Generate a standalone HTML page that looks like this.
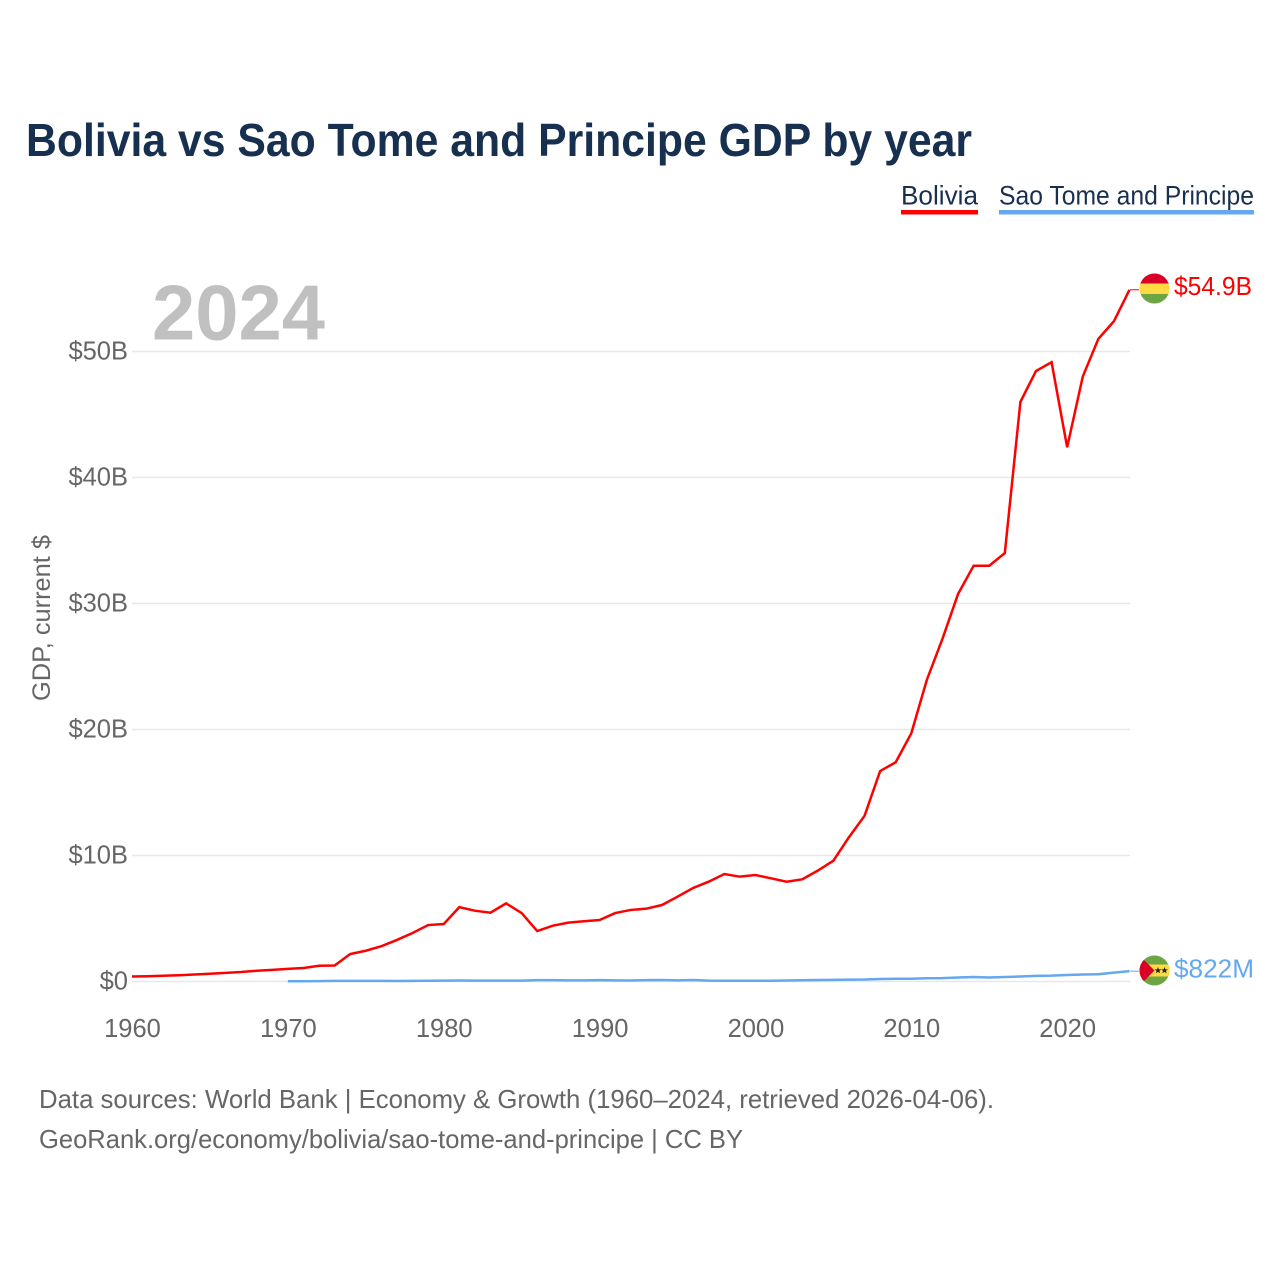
<!DOCTYPE html>
<html lang="en">
<head>
<meta charset="utf-8">
<title>Bolivia vs Sao Tome and Principe GDP by year</title>
<style>
html,body{margin:0;padding:0;background:#fff}
svg{display:block}
text{font-family:"Liberation Sans",sans-serif}
</style>
</head>
<body>
<svg id="chart" xmlns="http://www.w3.org/2000/svg" width="1280" height="1280" viewBox="0 0 1280 1280">
  <rect x="0" y="0" width="1280" height="1280" fill="#ffffff"/>
  <text x="26" y="156" font-size="46" font-weight="700" fill="#18304f" textLength="946" lengthAdjust="spacingAndGlyphs">Bolivia vs Sao Tome and Principe GDP by year</text>

  <g>
    <text x="901" y="204.5" font-size="26.5" fill="#18304f" textLength="77" lengthAdjust="spacingAndGlyphs">Bolivia</text>
    <rect x="901" y="210" width="77" height="4.5" fill="#ff0000"/>
  </g>
  <g>
    <text x="999" y="204.5" font-size="26.5" fill="#18304f" textLength="255" lengthAdjust="spacingAndGlyphs">Sao Tome and Principe</text>
    <rect x="999" y="210" width="255" height="4.5" fill="#64a8ef"/>
  </g>

  <g id="grid"></g>
  <g id="yTicks"></g>
  <g id="xTicks"></g>

  <text x="152" y="339.5" font-size="78" font-weight="700" fill="#c0c0c0" textLength="173" lengthAdjust="spacingAndGlyphs">2024</text>

  <text transform="translate(50,701) rotate(-90)" font-size="25" fill="#666666" textLength="166" lengthAdjust="spacingAndGlyphs">GDP, current $</text>

  <g id="series"></g>

  <defs>
    <clipPath id="clipBo"><circle cx="1154.5" cy="288.5" r="15"/></clipPath>
    <clipPath id="clipSt"><circle cx="1154.5" cy="970.5" r="15"/></clipPath>
  </defs>

  <g clip-path="url(#clipBo)">
    <rect x="1139" y="273" width="31" height="11" fill="#d80027"/>
    <rect x="1139" y="283.5" width="31" height="10.5" fill="#ffda44"/>
    <rect x="1139" y="294" width="31" height="11" fill="#6da544"/>
  </g>
  <g clip-path="url(#clipSt)">
    <rect x="1139" y="955" width="31" height="31" fill="#6da544"/>
    <rect x="1139" y="964.5" width="31" height="12" fill="#ffda44"/>
    <polygon points="1139,955 1154.5,970.5 1139,986" fill="#d80027"/>
    <polygon points="1158,967 1158.9,969.4 1161.4,969.4 1159.4,970.9 1160.2,973.3 1158,971.9 1155.8,973.3 1156.6,970.9 1154.6,969.4 1157.1,969.4" fill="#222"/>
    <polygon points="1164.5,967 1165.4,969.4 1167.9,969.4 1165.9,970.9 1166.7,973.3 1164.5,971.9 1162.3,973.3 1163.1,970.9 1161.1,969.4 1163.6,969.4" fill="#222"/>
  </g>

  <text x="1174" y="295" font-size="25.5" fill="#ff0000" textLength="78" lengthAdjust="spacingAndGlyphs">$54.9B</text>
  <text x="1174" y="977.5" font-size="25.5" fill="#64a8ef" textLength="80" lengthAdjust="spacingAndGlyphs">$822M</text>

  <text x="39" y="1108" font-size="26" fill="#666666" textLength="955" lengthAdjust="spacingAndGlyphs">Data sources: World Bank | Economy &amp; Growth (1960–2024, retrieved 2026-04-06).</text>
  <text x="39" y="1148" font-size="26" fill="#666666" textLength="704" lengthAdjust="spacingAndGlyphs">GeoRank.org/economy/bolivia/sao-tome-and-principe | CC BY</text>
</svg>
<script>
const yTickValues = [0, 10, 20, 30, 40, 50];
const yTickLabels = ["$0", "$10B", "$20B", "$30B", "$40B", "$50B"];
const xTickValues = [1960, 1970, 1980, 1990, 2000, 2010, 2020];
const boliviaStartYear = 1960;
const boliviaGdp = [0.4,0.42,0.46,0.5,0.56,0.62,0.68,0.75,0.85,0.92,1.0,1.07,1.25,1.27,2.18,2.44,2.8,3.3,3.85,4.48,4.56,5.9,5.62,5.46,6.2,5.43,4.0,4.43,4.67,4.78,4.88,5.43,5.68,5.78,6.07,6.73,7.42,7.92,8.53,8.32,8.45,8.19,7.92,8.11,8.8,9.59,11.45,13.15,16.7,17.4,19.7,23.95,27.2,30.75,33.0,33.0,34.0,46.0,48.45,49.15,42.4,48.0,51.0,52.4,54.9];
const saoTomeStartYear = 1970;
const saoTomeGdp = [0.02,0.02,0.03,0.05,0.05,0.05,0.05,0.04,0.05,0.06,0.07,0.08,0.07,0.07,0.07,0.07,0.11,0.11,0.09,0.09,0.11,0.09,0.08,0.11,0.12,0.09,0.12,0.07,0.06,0.06,0.06,0.06,0.08,0.1,0.12,0.13,0.15,0.16,0.2,0.22,0.22,0.26,0.27,0.32,0.36,0.32,0.36,0.4,0.45,0.47,0.52,0.56,0.58,0.7,0.822];

const NS = 'http://www.w3.org/2000/svg';
const xScale = function (year) { return 132 + (year - 1960) * (1129.5 - 132) / 64; };
const yScale = function (value) { return 981.5 - value * 12.6; };

const gridGroup = document.getElementById('grid');
const yGroup = document.getElementById('yTicks');
const xGroup = document.getElementById('xTicks');
const seriesGroup = document.getElementById('series');

yTickValues.forEach(function (value, i) {
  const line = document.createElementNS(NS, 'line');
  
  
  line.setAttribute('x1', 132);
  line.setAttribute('x2', 1130);
  line.setAttribute('y1', yScale(value));
  line.setAttribute('y2', yScale(value));
  line.setAttribute('stroke', '#e8e8e8');
  line.setAttribute('stroke-width', '1.5');
  gridGroup.appendChild(line);

  const label = document.createElementNS(NS, 'text');
  
  
  label.setAttribute('x', 128);
  label.setAttribute('y', yScale(value) + 8);
  label.setAttribute('text-anchor', 'end');
  label.setAttribute('font-size', '25.5');
  label.setAttribute('fill', '#666666');
  label.textContent = yTickLabels[i];
  yGroup.appendChild(label);
});

xTickValues.forEach(function (year) {
  const label = document.createElementNS(NS, 'text');
  
  
  label.setAttribute('x', xScale(year) + 0.5);
  label.setAttribute('y', 1037);
  label.setAttribute('text-anchor', 'middle');
  label.setAttribute('font-size', '25.5');
  label.setAttribute('fill', '#666666');
  label.textContent = String(year);
  xGroup.appendChild(label);
});

function pointsFor(values, startYear) {
  return values.map(function (value, i) {
    return xScale(startYear + i).toFixed(2) + ',' + yScale(value).toFixed(2);
  }).join(' ');
}

const saoLine = document.createElementNS(NS, 'polyline');


saoLine.setAttribute('points', pointsFor(saoTomeGdp, saoTomeStartYear));
saoLine.setAttribute('fill', 'none');
saoLine.setAttribute('stroke', '#64a8ef');
saoLine.setAttribute('stroke-width', '2.5');
seriesGroup.appendChild(saoLine);

const boliviaLine = document.createElementNS(NS, 'polyline');


boliviaLine.setAttribute('points', pointsFor(boliviaGdp, boliviaStartYear));
boliviaLine.setAttribute('fill', 'none');
boliviaLine.setAttribute('stroke', '#ff0000');
boliviaLine.setAttribute('stroke-width', '2.5');
seriesGroup.appendChild(boliviaLine);

const boliviaLast = boliviaGdp[boliviaGdp.length - 1];
const saoLast = saoTomeGdp[saoTomeGdp.length - 1];

const boliviaConnector = document.createElementNS(NS, 'line');


boliviaConnector.setAttribute('x1', 1130);
boliviaConnector.setAttribute('x2', 1139);
boliviaConnector.setAttribute('y1', yScale(boliviaLast));
boliviaConnector.setAttribute('y2', yScale(boliviaLast));
boliviaConnector.setAttribute('stroke', '#ff0000');
boliviaConnector.setAttribute('stroke-width', '1');
seriesGroup.appendChild(boliviaConnector);

const saoConnector = document.createElementNS(NS, 'line');


saoConnector.setAttribute('x1', 1130);
saoConnector.setAttribute('x2', 1139);
saoConnector.setAttribute('y1', yScale(saoLast));
saoConnector.setAttribute('y2', yScale(saoLast));
saoConnector.setAttribute('stroke', '#64a8ef');
saoConnector.setAttribute('stroke-width', '1');
seriesGroup.appendChild(saoConnector);
</script>
</body>
</html>
